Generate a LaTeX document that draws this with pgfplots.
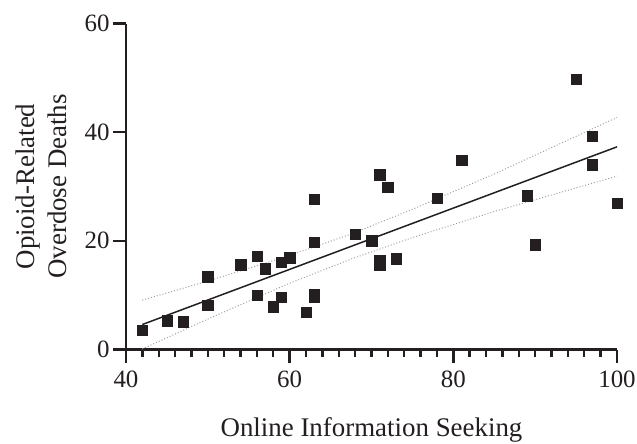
\documentclass[border=0pt]{standalone}
\usepackage{pgfplots}
\pgfplotsset{compat=1.18}
\usepackage{fontspec}
\setmainfont{Liberation Serif}
\definecolor{mk}{RGB}{35,31,32}
\definecolor{band}{RGB}{160,160,160}
\begin{document}
\begin{tikzpicture}
\begin{axis}[
  name=ax,
  scale only axis,
  width=491bp, height=326bp,
  xmin=40, xmax=100, ymin=0, ymax=60,
  xtick={40,60,80,100}, ytick={0,20,40,60},
  minor x tick num=9,
  axis lines=left,
  axis line style={-, line width=2.6bp, color=mk},
  tick style={line width=2.4bp, color=mk},
  tick align=outside,
  major tick length=13bp,
  minor tick length=7bp,
  /pgf/number format/assume math mode=true,
  ticklabel style={font=\fontsize{25}{30}\selectfont, color=mk},
  xticklabel style={yshift=-5bp},
  label style={font=\fontsize{27}{32}\selectfont, color=mk},
  xlabel={Online Information Seeking},
  xlabel style={yshift=-23bp},
  ylabel={Opioid-Related\\Overdose Deaths},
  ylabel style={align=center, yshift=11bp},
  clip=false,
]
\addplot[band, dotted, line width=1bp] coordinates {(42,9.1) (50,12.6) (60,17.3) (67.6,21.3) (75,25.8) (85,32.3) (100,42.7)};
\addplot[band, dotted, line width=1bp] coordinates {(42,0.1) (50,5.6) (60,12.2) (67.6,16.7) (75,20.6) (85,25.4) (100,31.9)};
\addplot[mk, line width=1.5bp] coordinates {(42,4.6) (100,37.3)};
\addplot[only marks, mark=square*, mark size=5.2bp, mk, mark options={fill=mk, draw=mk}] coordinates {
(42,3.5) (45,5.3) (47,5.1) (50,13.4) (50,8.1) (54,15.6) (56,17.2) (56,10.0)
(57,14.85) (58,7.85) (59,16.1) (59,9.6) (60,16.9) (62,6.9) (63,27.7) (63,19.8)
(63,10.2) (63,9.6) (68,21.2) (70,20.0) (71,32.2) (71,16.4) (71,15.6) (72,29.9)
(73,16.7) (78,27.9) (81,34.8) (89,28.3) (90,19.3) (95,49.7) (97,39.3) (97,34.0)
(100,26.9)};
\end{axis}
\pgfresetboundingbox
\path (ax.south west) ++(-126bp,-94.5bp) rectangle ++(637bp,444bp);
\end{tikzpicture}
\end{document}
